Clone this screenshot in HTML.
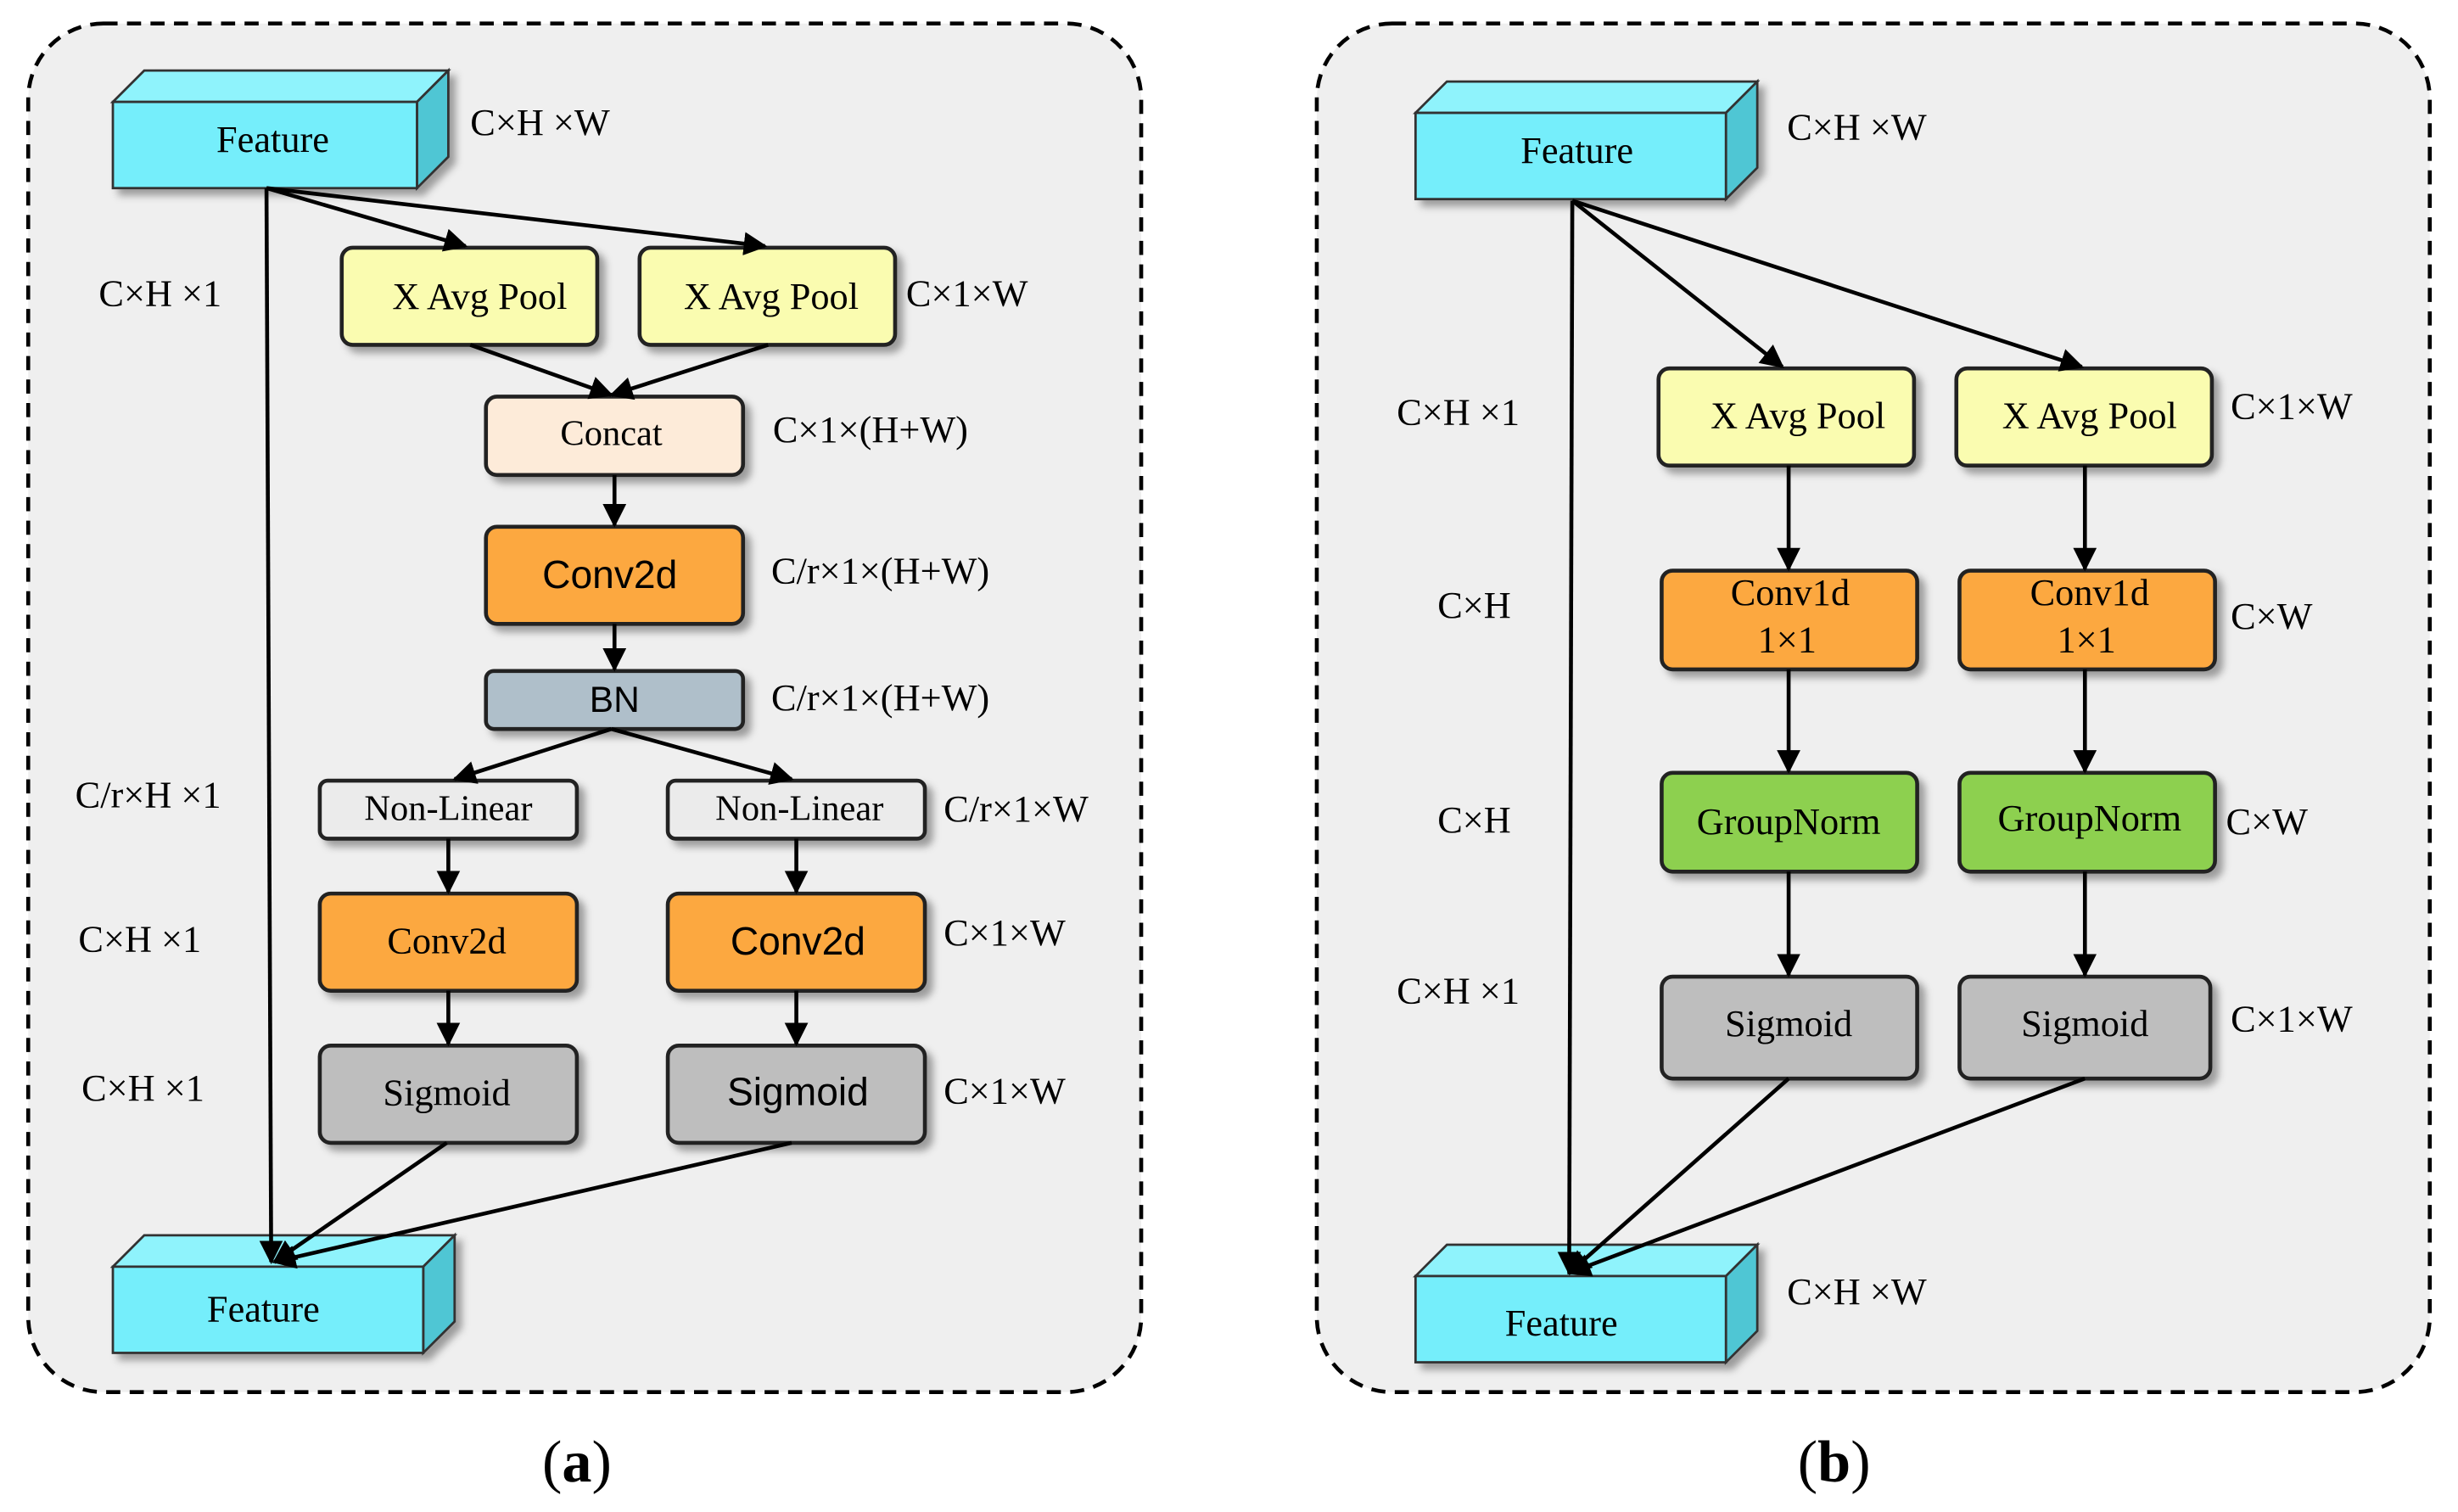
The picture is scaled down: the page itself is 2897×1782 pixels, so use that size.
<!DOCTYPE html>
<html><head><meta charset="utf-8"><style>html,body{margin:0;padding:0;background:#fff}svg{display:block}</style></head>
<body>
<svg xmlns="http://www.w3.org/2000/svg" width="2897" height="1782" viewBox="0 0 1568 964.5">
<defs>
<filter id="sh" x="-20%" y="-20%" width="150%" height="160%"><feDropShadow dx="4" dy="4" stdDeviation="2.5" flood-color="#000" flood-opacity="0.35"/></filter>
<marker id="ar" viewBox="0 0 10 10" refX="9" refY="5" markerWidth="6" markerHeight="6" orient="auto"><path d="M0,0 L10,5 L0,10 z" fill="#000"/></marker>
</defs>
<rect x="0" y="0" width="1568" height="964.5" fill="#fff"/>
<rect x="18" y="15" width="710" height="873" rx="48" fill="#efefef" stroke="#000" stroke-width="2.5" stroke-dasharray="9,6"/>
<rect x="840" y="15" width="710" height="873" rx="48" fill="#efefef" stroke="#000" stroke-width="2.5" stroke-dasharray="9,6"/>

<g font-family="Liberation Serif, serif" font-size="24" fill="#000">
<g stroke="#333" stroke-width="1.5" filter="url(#sh)">
<path d="M72,65 L92,45 L286,45 L266,65 Z" fill="#8ff3fc"/><path d="M266,65 L286,45 L286,100 L266,120 Z" fill="#4fc6d4"/><rect x="72" y="65" width="194" height="55" fill="#75eefb"/>
<path d="M72,808 L92,788 L290,788 L270,808 Z" fill="#8ff3fc"/><path d="M270,808 L290,788 L290,843 L270,863 Z" fill="#4fc6d4"/><rect x="72" y="808" width="198" height="55" fill="#75eefb"/>
<path d="M903,72 L923,52 L1121,52 L1101,72 Z" fill="#8ff3fc"/><path d="M1101,72 L1121,52 L1121,107 L1101,127 Z" fill="#4fc6d4"/><rect x="903" y="72" width="198" height="55" fill="#75eefb"/>
<path d="M903,814 L923,794 L1121,794 L1101,814 Z" fill="#8ff3fc"/><path d="M1101,814 L1121,794 L1121,849 L1101,869 Z" fill="#4fc6d4"/><rect x="903" y="814" width="198" height="55" fill="#75eefb"/>
</g>
<text x="174" y="97" text-anchor="middle">Feature</text>
<text x="168" y="843" text-anchor="middle">Feature</text>
<text x="1006" y="104" text-anchor="middle">Feature</text>
<text x="996" y="852" text-anchor="middle">Feature</text>

<g stroke="#222" stroke-width="2.5" filter="url(#sh)">
<rect x="218" y="158" width="163" height="62" rx="7" fill="#fafcb0"/>
<rect x="408" y="158" width="163" height="62" rx="7" fill="#fafcb0"/>
<rect x="310" y="253" width="164" height="50" rx="7" fill="#fdebd9"/>
<rect x="310" y="336" width="164" height="62" rx="7" fill="#fca840"/>
<rect x="310" y="428" width="164" height="37" rx="5" fill="#afbfca"/>
<rect x="204" y="498" width="164" height="37" rx="5" fill="#ebebeb"/>
<rect x="426" y="498" width="164" height="37" rx="5" fill="#ebebeb"/>
<rect x="204" y="570" width="164" height="62" rx="7" fill="#fca840"/>
<rect x="426" y="570" width="164" height="62" rx="7" fill="#fca840"/>
<rect x="204" y="667" width="164" height="62" rx="7" fill="#bebebe"/>
<rect x="426" y="667" width="164" height="62" rx="7" fill="#bebebe"/>
<rect x="1058" y="235" width="163" height="62" rx="7" fill="#fafcb0"/>
<rect x="1248" y="235" width="163" height="62" rx="7" fill="#fafcb0"/>
<rect x="1060" y="364" width="163" height="63" rx="7" fill="#fca840"/>
<rect x="1250" y="364" width="163" height="63" rx="7" fill="#fca840"/>
<rect x="1060" y="493" width="163" height="63" rx="7" fill="#8dd050"/>
<rect x="1250" y="493" width="163" height="63" rx="7" fill="#8dd050"/>
<rect x="1060" y="623" width="163" height="65" rx="7" fill="#bebebe"/>
<rect x="1250" y="623" width="160" height="65" rx="7" fill="#bebebe"/>
</g>
<g font-size="24" text-anchor="middle">
<text x="306" y="197">X Avg Pool</text>
<text x="492" y="197">X Avg Pool</text>
<text x="390" y="284" font-size="23">Concat</text>
<text x="389" y="375" font-family="Liberation Sans, sans-serif" font-size="25">Conv2d</text>
<text x="392" y="454" font-family="Liberation Sans, sans-serif" font-size="23">BN</text>
<text x="286" y="523" font-size="23">Non-Linear</text>
<text x="510" y="523" font-size="23">Non-Linear</text>
<text x="285" y="608">Conv2d</text>
<text x="509" y="609" font-family="Liberation Sans, sans-serif" font-size="25">Conv2d</text>
<text x="285" y="705">Sigmoid</text>
<text x="509" y="705" font-family="Liberation Sans, sans-serif" font-size="25">Sigmoid</text>
<text x="1147" y="273">X Avg Pool</text>
<text x="1333" y="273">X Avg Pool</text>
<text x="1142" y="386">Conv1d</text><text x="1140" y="416">1×1</text>
<text x="1333" y="386">Conv1d</text><text x="1331" y="416">1×1</text>
<text x="1141" y="532">GroupNorm</text>
<text x="1333" y="530">GroupNorm</text>
<text x="1141" y="661">Sigmoid</text>
<text x="1330" y="661">Sigmoid</text>
</g>

<g stroke="#000" stroke-width="2.5" fill="none" marker-end="url(#ar)">
<line x1="170" y1="120" x2="297" y2="157"/>
<line x1="170" y1="120" x2="488" y2="157"/>
<line x1="170" y1="120" x2="173" y2="805"/>
<line x1="300" y1="220" x2="390" y2="252"/>
<line x1="490" y1="220" x2="390" y2="252"/>
<line x1="392" y1="303" x2="392" y2="335"/>
<line x1="392" y1="398" x2="392" y2="427"/>
<line x1="390" y1="465" x2="290" y2="497"/>
<line x1="390" y1="465" x2="505" y2="497"/>
<line x1="286" y1="535" x2="286" y2="569"/>
<line x1="508" y1="535" x2="508" y2="569"/>
<line x1="286" y1="632" x2="286" y2="666"/>
<line x1="508" y1="632" x2="508" y2="666"/>
<line x1="285" y1="729" x2="175" y2="805"/>
<line x1="505" y1="729" x2="175" y2="805"/>
<line x1="1003" y1="128" x2="1137" y2="234"/>
<line x1="1003" y1="128" x2="1328" y2="234"/>
<line x1="1003" y1="128" x2="1001" y2="812"/>
<line x1="1141" y1="297" x2="1141" y2="363"/>
<line x1="1330" y1="297" x2="1330" y2="363"/>
<line x1="1141" y1="427" x2="1141" y2="492"/>
<line x1="1330" y1="427" x2="1330" y2="492"/>
<line x1="1141" y1="556" x2="1141" y2="622"/>
<line x1="1330" y1="556" x2="1330" y2="622"/>
<line x1="1141" y1="688" x2="1001" y2="812"/>
<line x1="1330" y1="688" x2="1001" y2="812"/>
</g>

<text x="300" y="86">C×H ×W</text>
<text x="63" y="195">C×H ×1</text>
<text x="578" y="195">C×1×W</text>
<text x="493" y="282">C×1×(H+W)</text>
<text x="492" y="372">C/r×1×(H+W)</text>
<text x="492" y="453">C/r×1×(H+W)</text>
<text x="48" y="515">C/r×H ×1</text>
<text x="602" y="524">C/r×1×W</text>
<text x="50" y="607">C×H ×1</text>
<text x="602" y="603">C×1×W</text>
<text x="52" y="702">C×H ×1</text>
<text x="602" y="704">C×1×W</text>
<text x="1140" y="89">C×H ×W</text>
<text x="891" y="271">C×H ×1</text>
<text x="1423" y="267">C×1×W</text>
<text x="917" y="394">C×H</text>
<text x="1423" y="401">C×W</text>
<text x="917" y="531">C×H</text>
<text x="1420" y="532">C×W</text>
<text x="891" y="640">C×H ×1</text>
<text x="1423" y="658">C×1×W</text>
<text x="1140" y="832">C×H ×W</text>

<text x="368" y="945" font-size="38" text-anchor="middle">(<tspan font-weight="bold">a</tspan>)</text>
<text x="1170" y="945" font-size="38" text-anchor="middle">(<tspan font-weight="bold">b</tspan>)</text>
</g>
</svg>
</body></html>
